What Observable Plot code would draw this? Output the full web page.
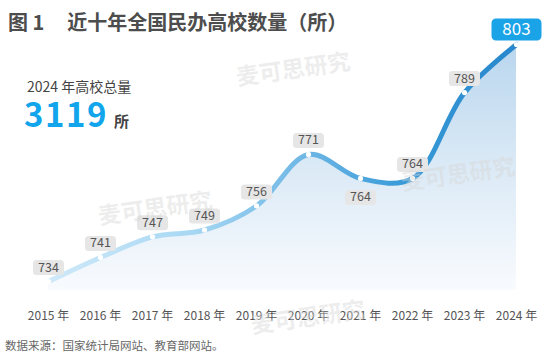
<!DOCTYPE html>
<html>
<head>
<meta charset="utf-8">
<script src="https://cdn.jsdelivr.net/npm/d3@7"></script>
<script src="https://cdn.jsdelivr.net/npm/@observablehq/plot@0.6"></script>
<style>
  body { margin: 0; background: #fff; font-family: "Noto Sans CJK SC", "Noto Sans", sans-serif; }
  #wrap { position: relative; width: 552px; height: 354px; overflow: hidden; background: #fff; }
  #chart { position: absolute; left: 0; top: 0; }
  .abs { position: absolute; white-space: nowrap; line-height: 1; }
  #title { left: 8px; top: 12px; font-size: 20px; font-weight: 700; color: #4d4d4d; }
  #title .main { margin-left: 23px; }
  #totalLabel { left: 27px; top: 79px; font-size: 14px; color: #444; }
  #totalValue { left: 24px; top: 100px; font-size: 33px; line-height: 26px; font-weight: 700; color: #12a5ec; letter-spacing: 1.5px; }
  #totalUnit { font-size: 15px; font-weight: 700; color: #444; letter-spacing: 0; margin-left: 6px; }
  #source { left: 5px; top: 340px; font-size: 11.5px; color: #666; }
  .wm { position: absolute; white-space: nowrap; line-height: 1; font-size: 23px; font-weight: 700;
        color: rgba(215,215,215,0.45); transform: translate(-50%, -50%) rotate(-8deg); pointer-events: none; }
</style>
</head>
<body>
<div id="wrap">
  <div id="chart"></div>
  <div class="abs" id="title"><span>图 1</span><span class="main">近十年全国民办高校数量（所）</span></div>
  <div class="abs" id="totalLabel"></div>
  <div class="abs" id="totalValue"></div>
  <div class="abs" id="source"></div>
</div>
<script>
// ---- data ----
const yearLabels = ["2015 年", "2016 年", "2017 年", "2018 年", "2019 年", "2020 年", "2021 年", "2022 年", "2023 年", "2024 年"];
const schoolCounts = [734, 741, 747, 749, 756, 771, 764, 764, 789, 803];
const belowLabelYears = ["2021 年"];
const highlightYear = "2024 年";
const totalLabelText = "2024 年高校总量";
const totalValue = 3119;
const totalUnit = "所";
const sourceText = "数据来源：国家统计局网站、教育部网站。";
const watermarkText = "麦可思研究";
const watermarkSpots = [[155, 207], [293, 68], [458, 173], [308, 316]];

// ---- text blocks ----
document.getElementById("totalLabel").textContent = totalLabelText;
document.getElementById("totalValue").innerHTML = `${totalValue}<span id="totalUnit">${totalUnit}</span>`;
document.getElementById("source").textContent = sourceText;
const wrap = document.getElementById("wrap");
for (const [cx, cy] of watermarkSpots) {
  const el = document.createElement("div");
  el.className = "wm";
  el.style.left = cx + "px";
  el.style.top = cy + "px";
  el.textContent = watermarkText;
  wrap.appendChild(el);
}

// ---- chart ----
const data = yearLabels.map((year, i) => ({year, value: schoolCounts[i]}));
const aboveData = data.filter(d => !belowLabelYears.includes(d.year) && d.year !== highlightYear);
const belowData = data.filter(d => belowLabelYears.includes(d.year));
const topData = data.filter(d => d.year === highlightYear);

function roundRect(w, h, r) {
  return {
    draw(ctx) {
      const x0 = -w / 2, y0 = -h / 2, x1 = w / 2, y1 = h / 2;
      ctx.moveTo(x0 + r, y0);
      ctx.lineTo(x1 - r, y0);
      ctx.arcTo(x1, y0, x1, y0 + r, r);
      ctx.lineTo(x1, y1 - r);
      ctx.arcTo(x1, y1, x1 - r, y1, r);
      ctx.lineTo(x0 + r, y1);
      ctx.arcTo(x0, y1, x0, y1 - r, r);
      ctx.lineTo(x0, y0 + r);
      ctx.arcTo(x0, y0, x0 + r, y0, r);
      ctx.closePath();
    }
  };
}

const curve = "catmull-rom";
const chart = Plot.plot({
  width: 552,
  height: 354,
  marginTop: 0,
  marginRight: 0,
  marginBottom: 58,
  marginLeft: 0,
  style: {fontFamily: '"Noto Sans CJK SC", "Noto Sans", sans-serif', background: "transparent", color: "#555", overflow: "visible"},
  x: {type: "point", domain: yearLabels, range: [48, 516], padding: 0, label: null},
  y: {domain: [734, 803], range: [281, 44], axis: null},
  marks: [
    Plot.areaY(data, {x: "year", y1: 731.4, y2: "value", curve, fill: "url(#areaGrad)"}),
    Plot.line(data, {x: "year", y: "value", curve, stroke: "#8fa8c6", strokeOpacity: 0.7, strokeWidth: 8, dx: 2, dy: 8, ariaLabel: "shadow"}),
    Plot.line(data, {x: "year", y: "value", curve, stroke: "url(#lineGrad)", strokeWidth: 5, strokeLinecap: "round"}),
    Plot.dot(data, {x: "year", y: "value", r: 2.6, fill: "white", stroke: "none"}),
    Plot.dot(aboveData, {x: "year", y: "value", symbol: roundRect(31, 15, 3.5), r: 5, fill: "#e6e6e6", stroke: "none", dy: -14}),
    Plot.text(aboveData, {x: "year", y: "value", text: d => String(d.value), dy: -14, fill: "#555", fontSize: 12.5}),
    Plot.dot(belowData, {x: "year", y: "value", symbol: roundRect(31, 15, 3.5), r: 5, fill: "#e6e6e6", stroke: "none", dy: 19}),
    Plot.text(belowData, {x: "year", y: "value", text: d => String(d.value), dy: 19, fill: "#555", fontSize: 12.5}),
    Plot.dot(topData, {x: "year", y: "value", symbol: roundRect(50, 22, 4.5), r: 5, fill: "#1ba3e8", stroke: "none", dy: -15}),
    Plot.text(topData, {x: "year", y: "value", text: d => String(d.value), dy: -15, fill: "white", fontSize: 17}),
    Plot.axisX({tickSize: 0, tickPadding: 15, fontSize: 12, label: null})
  ]
});

// gradient & blur definitions
const ns = "http://www.w3.org/2000/svg";
const defs = document.createElementNS(ns, "defs");
defs.innerHTML = `
  <linearGradient id="lineGrad" gradientUnits="userSpaceOnUse" x1="48" y1="0" x2="516" y2="0">
    <stop offset="0" stop-color="#cfe9f9"/>
    <stop offset="0.3" stop-color="#a9d8f3"/>
    <stop offset="0.55" stop-color="#6db6e5"/>
    <stop offset="0.75" stop-color="#3a9bd8"/>
    <stop offset="1" stop-color="#2787cc"/>
  </linearGradient>
  <linearGradient id="areaGrad" gradientUnits="userSpaceOnUse" x1="0" y1="44" x2="0" y2="292">
    <stop offset="0" stop-color="#b9d6ee"/>
    <stop offset="0.45" stop-color="#d8e8f5"/>
    <stop offset="1" stop-color="#f9fbfe"/>
  </linearGradient>
  <filter id="shadowBlur" x="-10%" y="-30%" width="120%" height="160%">
    <feGaussianBlur stdDeviation="4"/>
  </filter>`;
chart.insertBefore(defs, chart.firstChild);
const shadow = chart.querySelector('[aria-label="shadow"]');
if (shadow) shadow.setAttribute("filter", "url(#shadowBlur)");

document.getElementById("chart").appendChild(chart);
</script>
</body>
</html>
